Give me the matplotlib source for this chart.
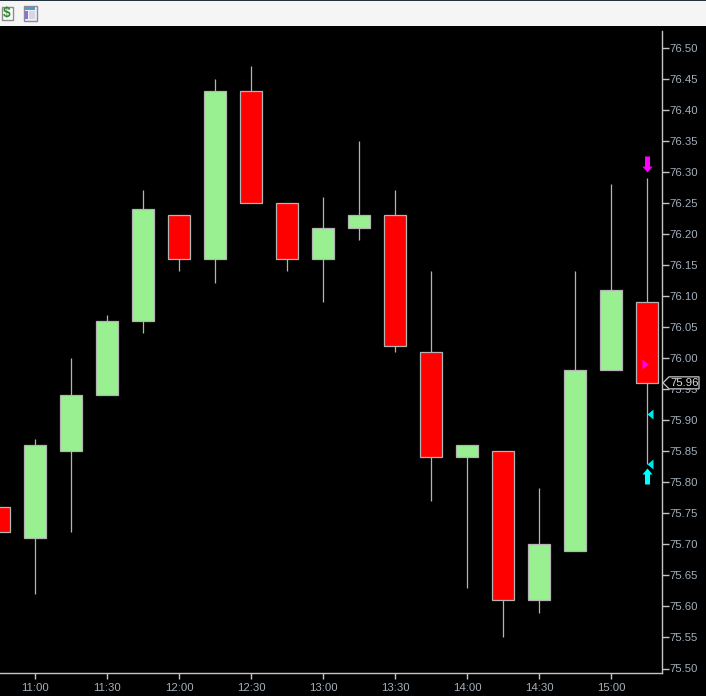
import matplotlib
matplotlib.use('Agg')

import matplotlib.pyplot as plt
from matplotlib.patches import Polygon, Rectangle
from matplotlib.path import Path

plt.rcParams['font.family'] = ['Liberation Sans', 'DejaVu Sans']

# bars, one every 15 minutes, 0 is the 11:00 bar
bar_pos = [-1, 0, 1, 2, 3, 4, 5, 6, 7, 8, 9, 10, 11, 12, 13, 14, 15, 16, 17]
opens = [75.76, 75.71, 75.85, 75.94, 76.06, 76.23, 76.16, 76.43, 76.25, 76.16,
         76.21, 76.23, 76.01, 75.84, 75.85, 75.61, 75.69, 75.98, 76.09]
closes = [75.72, 75.86, 75.94, 76.06, 76.24, 76.16, 76.43, 76.25, 76.16, 76.21,
          76.23, 76.02, 75.84, 75.86, 75.61, 75.70, 75.98, 76.11, 75.96]
highs = [75.76, 75.87, 76.00, 76.07, 76.27, 76.23, 76.45, 76.47, 76.25, 76.26,
         76.35, 76.27, 76.14, 75.86, 75.85, 75.79, 76.14, 76.28, 76.29]
lows = [75.72, 75.62, 75.72, 75.94, 76.04, 76.14, 76.12, 76.25, 76.14, 76.09,
        76.19, 76.01, 75.77, 75.63, 75.55, 75.59, 75.69, 75.98, 75.83]

time_pos = [0, 2, 4, 6, 8, 10, 12, 14, 16]
time_labels = ['11:00', '11:30', '12:00', '12:30', '13:00', '13:30', '14:00', '14:30', '15:00']
price_ticks = [75.50, 75.55, 75.60, 75.65, 75.70, 75.75, 75.80, 75.85, 75.90, 75.95, 76.00,
               76.05, 76.10, 76.15, 76.20, 76.25, 76.30, 76.35, 76.40, 76.45, 76.50]

sell_arrow = (17, 76.312)
buy_arrow = (17, 75.81)
entry_mark = (16.94, 75.99)
exit_marks_x = [17.08, 17.08]
exit_marks_y = [75.91, 75.83]
last_price = 75.96

W, H = 706, 696
GREY = '#c4c4c4'
WICK = '#b4b4b4'
TICK_TEXT = '#a3b0bc'

fig = plt.figure(figsize=(W / 100, H / 100), dpi=100, facecolor='black')

# main chart, limits worked out from the pixel rows of the ticks
ax = fig.add_axes([0, (H - 673) / H, 662 / W, (673 - 26) / H], facecolor='black')
ax.set_xlim(-35 / 36, (662 - 35) / 36)
ax.set_ylim(75.50 - 4.5 / 621, 76.50 + 21.5 / 621)

ax.vlines(bar_pos, lows, highs, color=WICK, lw=0.9, zorder=1)
colors = ['#98f090' if c >= o else '#ff0000' for o, c in zip(opens, closes)]
bottoms = [min(o, c) for o, c in zip(opens, closes)]
heights = [abs(c - o) for o, c in zip(opens, closes)]
ax.bar(bar_pos, heights, bottom=bottoms, width=0.62, color=colors,
       edgecolor=WICK, linewidth=0.9, zorder=2)

down_arrow = Path([(-2.5, 8), (2.5, 8), (2.5, -2), (5, -2), (0, -8), (-5, -2), (-2.5, -2), (-2.5, 8)], closed=True)
up_arrow = Path([(-2.5, -8), (2.5, -8), (2.5, 2), (5, 2), (0, 8), (-5, 2), (-2.5, 2), (-2.5, -8)], closed=True)
left_tri = Path([(3, -5), (3, 5), (-3, 0), (3, -5)], closed=True)
right_tri = Path([(-3, -5), (-3, 5), (3, 0), (-3, -5)], closed=True)

ax.plot(*sell_arrow, marker=down_arrow, ms=11.5, color='#ff00ff', mew=0, ls='none', zorder=4)
ax.plot(*buy_arrow, marker=up_arrow, ms=11.5, color='#00ffff', mew=0, ls='none', zorder=4)
ax.plot(*entry_mark, marker=right_tri, ms=7.2, color='#ff00ff', mew=0, ls='none', zorder=4)
ax.plot(exit_marks_x, exit_marks_y, marker=left_tri, ms=7.2, color='#00e5ee', mew=0, ls='none', zorder=4)

for s in ['top', 'left']:
    ax.spines[s].set_visible(False)
for s in ['right', 'bottom']:
    ax.spines[s].set_color(GREY)
    ax.spines[s].set_linewidth(1.0)
ax.spines['right'].set_bounds(75.50 - 4.5 / 621, 76.527)

ax.yaxis.tick_right()
ax.set_yticks(price_ticks)
ax.set_yticklabels(['%.2f' % p for p in price_ticks])
ax.set_xticks(time_pos)
ax.set_xticklabels(time_labels)
ax.tick_params(axis='y', length=4.7, width=1.0, color=GREY, labelcolor=TICK_TEXT, labelsize=8.2, pad=1)
ax.tick_params(axis='x', length=4.4, width=1.0, color=GREY, labelcolor=TICK_TEXT, labelsize=8.2, pad=2.5)

# last price flag sits over the axis labels
top = fig.add_axes([0, 0, 1, 1], facecolor='none')
top.set_xlim(0, W)
top.set_ylim(H, 0)
top.axis('off')

flag_y = ax.transData.transform((0, last_price))[1]
flag_y = H - flag_y
top.add_patch(Polygon([(663, flag_y), (669, flag_y - 6), (699, flag_y - 6), (699, flag_y + 6), (669, flag_y + 6)],
                      closed=True, facecolor='black', edgecolor=GREY, lw=0.9))
top.text(684.5, flag_y + 0.2, '%.2f' % last_price, color='#d8dde2', fontsize=8.2, ha='center', va='center')

# toolbar strip
top.add_patch(Rectangle((0, 0), W, 26, facecolor='#f5f5f5', edgecolor='none'))
top.add_patch(Rectangle((0, 0), W, 1, facecolor='#26323c', edgecolor='none'))
top.add_patch(Rectangle((1.5, 6.5), 11, 13, facecolor='white', edgecolor='#8c8c8c', lw=1))
top.text(7, 13.3, '$', color='#2e8b2e', fontsize=10, fontweight='bold', ha='center', va='center')
top.add_patch(Rectangle((23.5, 5.5), 13, 15, facecolor='#eef0f6', edgecolor='#8a8a98', lw=1))
top.add_patch(Rectangle((25, 7), 10, 2.5, facecolor='#4f9fc8', edgecolor='none'))
top.add_patch(Rectangle((25, 11), 2.5, 8, facecolor='#9a66ee', edgecolor='none'))
top.add_patch(Rectangle((29, 11), 6, 8, facecolor='#d5d8e4', edgecolor='none'))

fig.savefig('out.png', dpi=100, facecolor='black')
